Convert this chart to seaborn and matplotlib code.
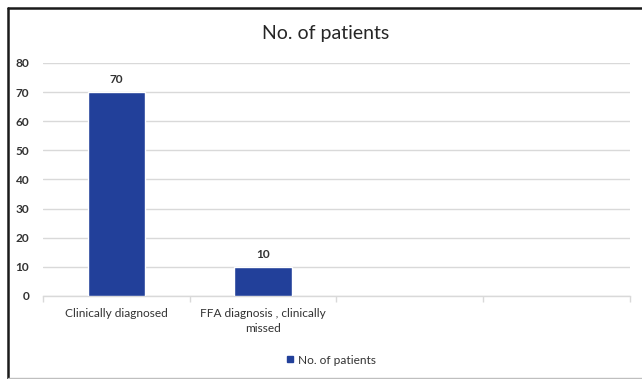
import matplotlib
matplotlib.use("Agg")
import matplotlib.pyplot as plt
import seaborn as sns
import pandas as pd
from matplotlib.lines import Line2D
from matplotlib.ticker import FixedLocator

categories = ["Clinically diagnosed", "FFA diagnosis , clinically\nmissed"]
patients = [70, 10]
y_ticks = [0, 10, 20, 30, 40, 50, 60, 70, 80]
series_name = "No. of patients"

sns.set_theme(style="white")
plt.rcParams["font.family"] = ["Lato", "DejaVu Sans"]

bar_color = "#22409A"
text_color = "#333333"
grid_color = "#D9D9D9"

df = pd.DataFrame({"category": categories, "value": patients})

fig = plt.figure(figsize=(6.42, 3.79), dpi=100)
ax = fig.add_axes([0.067, 0.219, 0.914, 0.615])

sns.barplot(data=df, x="category", y="value", color=bar_color, width=0.39,
            saturation=1, ax=ax, zorder=3)

ax.set_xlim(-0.5, 3.5)
ax.set_ylim(0, 80)
ax.set_yticks(y_ticks)
ax.yaxis.grid(True, color=grid_color, linewidth=1.0, zorder=0)
ax.set_xlabel("")
ax.set_ylabel("")

for s in ["left", "right", "top"]:
    ax.spines[s].set_visible(False)
ax.spines["bottom"].set_color(grid_color)
ax.spines["bottom"].set_linewidth(1.0)

ax.tick_params(axis="y", length=0, labelsize=8.6, labelcolor=text_color, pad=10)
ax.tick_params(axis="x", which="major", length=0, labelsize=8.6,
               labelcolor=text_color, pad=9)
for lbl in ax.get_xticklabels():
    lbl.set_linespacing(1.4)
ax.xaxis.set_minor_locator(FixedLocator([-0.5, 0.5, 1.5, 2.5, 3.5]))
ax.tick_params(axis="x", which="minor", bottom=True, direction="out",
               length=4, color=grid_color, width=1.0)

for lbl in ax.get_yticklabels():
    lbl.set_fontweight("bold")

for i, v in enumerate(patients):
    ax.text(i, v + 2.5, f"{v}", ha="center", va="bottom", fontsize=8.6,
            color=text_color, fontweight="bold")

fig.text(0.507, 0.912, series_name, ha="center", va="center",
         fontsize=14, color="#262626")

handle = Line2D([], [], marker="s", linestyle="none", markersize=4,
                markerfacecolor=bar_color, markeredgecolor=bar_color)
fig.legend([handle], [series_name], loc="center", bbox_to_anchor=(0.515, 0.05),
           frameon=False, fontsize=8.6, handletextpad=0.2, labelcolor=text_color,
           handlelength=0.8)

# outer chart frame
fig.add_artist(Line2D([0.0125, 1.0], [0.979, 0.979], transform=fig.transFigure,
                      color="#1A1A1A", linewidth=1.8))
fig.add_artist(Line2D([0.0125, 0.0125], [0.0, 0.979], transform=fig.transFigure,
                      color="#1A1A1A", linewidth=1.8))
fig.add_artist(Line2D([0.0125, 1.0], [0.003, 0.003], transform=fig.transFigure,
                      color="#BFBFBF", linewidth=1.0))

fig.savefig("out.png", dpi=100)
